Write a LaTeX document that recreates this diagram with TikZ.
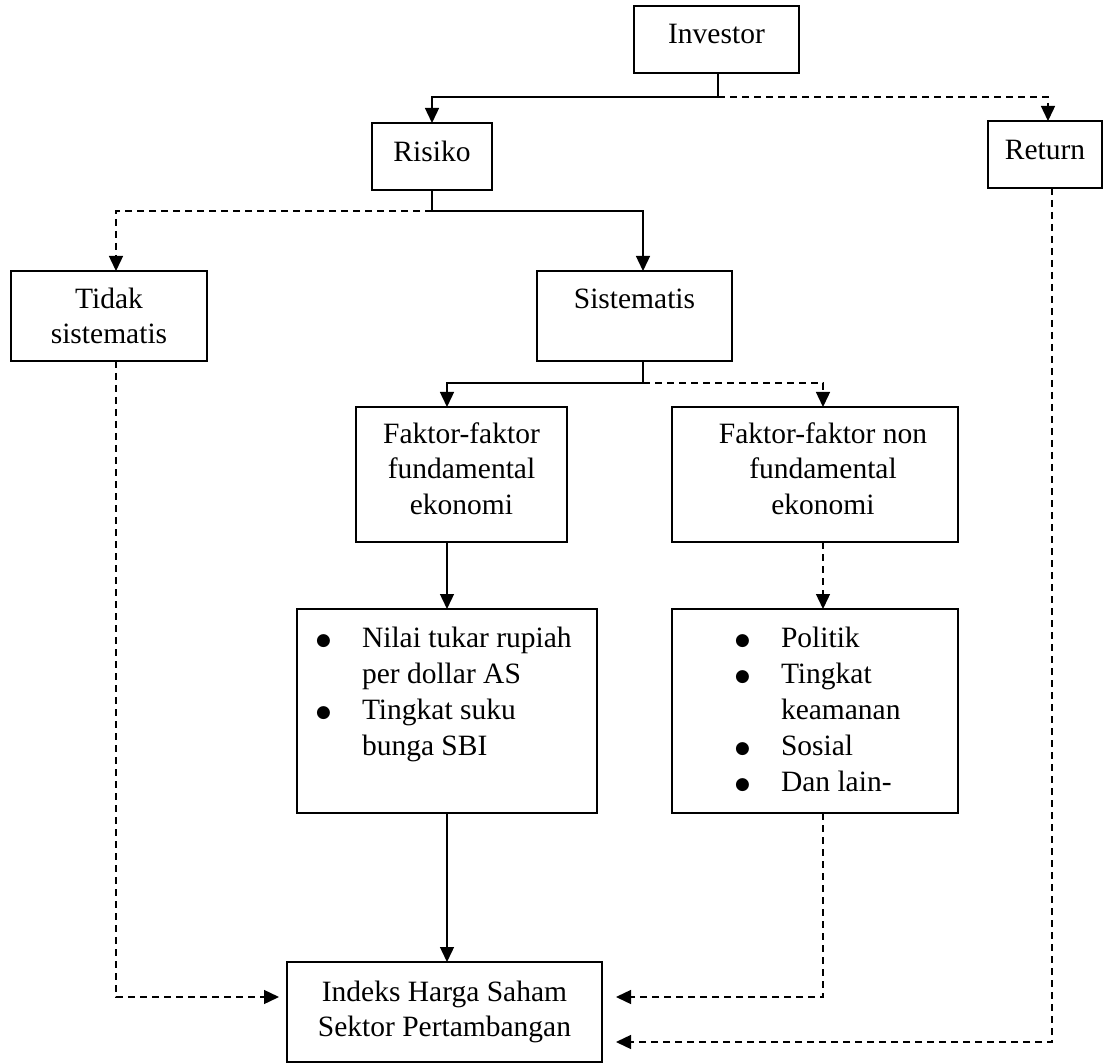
\documentclass[tikz,border=0pt]{standalone}
\usepackage{fontspec}
\setmainfont{Liberation Serif}
\newfontfamily\symfont{DejaVu Sans}
\usetikzlibrary{arrows.meta}
\newcommand{\cbx}[4]{\parbox[c][#2][t]{#1}{\centering\rule{0pt}{#3}#4\par}}
\newcommand{\lbx}[4]{\parbox[c][#2][t]{#1}{\raggedright\baselineskip=18pt\rule{0pt}{#3}#4\par}}
\newcommand{\bul}[1]{\hspace*{#1}\makebox[23pt][l]{\raisebox{0.6pt}{\symfont\fontsize{8.5pt}{9pt}\selectfont ●}}}
\tikzset{
  box/.style={draw, line width=0.8pt, inner sep=0pt, outer sep=0pt,
    font=\fontsize{14.75pt}{17.5pt}\selectfont},
  ln/.style={line width=0.7pt},
  dsh/.style={ln, dash pattern=on 3.5pt off 2.5pt},
  arr/.style={-{Triangle[length=7.5pt,width=7pt]}},
}
\begin{document}
\begin{tikzpicture}[x=0.5pt,y=-0.5pt]
\useasboundingbox (0,0) rectangle (1104,1064);
% boxes
\node[box] (inv) at (716.5,39.5) {\cbx{82.5pt}{33.5pt}{19pt}{Investor}};
\node[box] (ris) at (432,156.5) {\cbx{60pt}{33.5pt}{19.5pt}{Risiko}};
\node[box] (ret) at (1045,154.5) {\cbx{57pt}{33.5pt}{19.5pt}{Return}};
\node[box] (tid) at (109,316) {\cbx{98pt}{45pt}{19pt}{Tidak\\sistematis}};
\node[box] (sis) at (634.5,316) {\cbx{97.5pt}{45pt}{19pt}{Sistematis}};
\node[box] (ff) at (461.5,474.5) {\cbx{105.5pt}{67.5pt}{18.5pt}{Faktor-faktor\\fundamental\\ekonomi}};
\node[box] (fnf) at (815,474.5) {\cbx{143pt}{67.5pt}{18.5pt}{\hspace*{8pt}Faktor-faktor non\\\hspace*{8pt}fundamental\\\hspace*{8pt}ekonomi}};
\node[box] (lb) at (447,711) {\lbx{150pt}{102pt}{19pt}{%
  \bul{9.5pt}Nilai tukar rupiah\\
  \hspace*{32.5pt}per dollar AS\\
  \bul{9.5pt}Tingkat suku\\
  \hspace*{32.5pt}bunga SBI}};
\node[box] (rb) at (815,711) {\lbx{143pt}{102pt}{19pt}{%
  \bul{31.5pt}Politik\\
  \bul{31.5pt}Tingkat\\
  \hspace*{54.5pt}keamanan\\
  \bul{31.5pt}Sosial\\
  \bul{31.5pt}Dan lain-}};
\node[box] (idx) at (444.5,1012) {\cbx{157.5pt}{50pt}{19.5pt}{Indeks Harga Saham\\Sektor Pertambangan}};
% junctions
\coordinate (j1) at (718,97);
\coordinate (j2) at (432,211);
\coordinate (j3) at (643,383);
\coordinate (k1) at (116,997);
\coordinate (k2) at (823,997);
\coordinate (k3) at (1052,1042);
% connectors
\draw[ln] (inv.south -| j1) -- (j1);
\draw[ln,arr] (j1) -| (ris.north);
\draw[dsh,arr] (j1) -| ([xshift=1.5pt]ret.north);
\draw[ln] (ris.south) -- (j2);
\draw[dsh,arr] (j2) -| ([xshift=3.5pt]tid.north);
\draw[ln,arr] (j2) -| ([xshift=4.25pt]sis.north);
\draw[ln] ([xshift=4.25pt]sis.south) -- (j3);
\draw[ln,arr] (j3) -| ([xshift=-7.25pt]ff.north);
\draw[dsh,arr] (j3) -| ([xshift=4pt]fnf.north);
\draw[ln,arr] ([xshift=-7.25pt]ff.south) -- (lb.north);
\draw[dsh,arr] ([xshift=4pt]fnf.south) -- ([xshift=4pt]rb.north);
\draw[ln,arr] (lb.south) -- (lb.south |- idx.north);
\draw[dsh,arr,shorten >=4pt] ([xshift=3.5pt]tid.south) -- (k1) -- (k1 -| idx.west);
\draw[dsh,arr,shorten >=7pt] ([xshift=4pt]rb.south) -- (k2) -- (k2 -| idx.east);
\draw[dsh,arr,shorten >=7pt] ([xshift=3.5pt]ret.south) -- (k3) -- (k3 -| idx.east);
\end{tikzpicture}
\end{document}
